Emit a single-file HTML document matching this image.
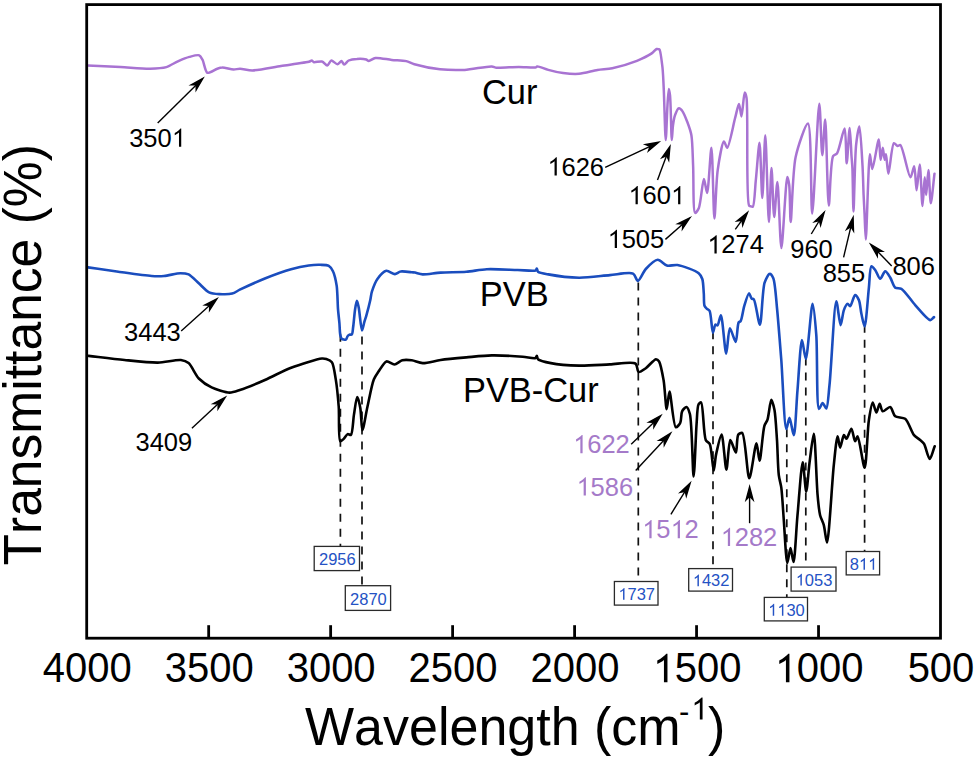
<!DOCTYPE html><html><head><meta charset="utf-8"><title>FTIR spectra</title><style>html,body{margin:0;padding:0;background:#fff;}svg{display:block;}text{font-family:"Liberation Sans",sans-serif;font-kerning:none;}</style></head><body>
<svg width="975" height="759" viewBox="0 0 975 759">
<rect x="0" y="0" width="975" height="759" fill="#fff"/>
<g stroke="#111" stroke-width="1.7" stroke-dasharray="8 7" fill="none">
<line x1="340.4" y1="333.8" x2="340.4" y2="546.4"/>
<line x1="362.0" y1="336.4" x2="362.0" y2="585.7"/>
<line x1="638.3" y1="282.5" x2="638.3" y2="581.5"/>
<line x1="713.0" y1="331.3" x2="713.0" y2="568.6"/>
<line x1="786.8" y1="429.2" x2="786.8" y2="597.4"/>
<line x1="805.8" y1="357.5" x2="805.8" y2="567.1"/>
<line x1="864.6" y1="324.8" x2="864.6" y2="551.5"/>
</g>
<g fill="none" stroke-linejoin="round" stroke-linecap="round">
<path d="M87.6 65.4 C98.6 66.0 112.0 66.6 120.5 67.1 C128.6 67.5 143.3 68.8 150.0 68.7 C155.0 68.6 162.5 68.2 166.4 67.1 C169.8 66.1 174.8 62.7 177.9 61.3 C180.9 60.0 186.4 57.7 189.4 56.9 C192.1 56.2 197.4 54.6 199.2 55.3 C200.5 55.8 201.6 58.1 202.5 59.7 C203.9 62.2 205.2 71.8 207.4 72.8 C209.3 73.6 215.1 69.4 217.3 68.7 C218.8 68.2 220.6 67.6 222.2 67.6 C224.6 67.5 231.1 69.5 233.7 69.5 C235.6 69.5 238.0 68.7 240.0 68.7 C242.7 68.7 248.3 70.4 252.3 70.4 C258.4 70.4 273.3 67.2 281.0 66.0 C288.7 64.8 306.5 62.5 309.7 61.5 C310.6 61.2 311.3 60.4 311.8 60.5 C312.4 60.6 313.0 61.9 313.8 62.2 C315.2 62.6 320.2 60.9 322.0 61.5 C323.7 62.0 326.0 65.7 327.2 65.6 C328.4 65.5 330.0 60.7 331.3 60.5 C332.7 60.3 336.0 64.3 337.4 64.2 C338.6 64.1 340.6 61.0 341.5 61.1 C342.4 61.2 343.3 64.5 344.2 64.6 C345.2 64.7 347.2 61.3 348.7 60.5 C350.5 59.6 354.6 59.0 356.9 58.9 C359.3 58.7 364.5 59.0 366.2 59.5 C367.1 59.8 367.9 60.9 368.8 60.9 C370.1 61.0 373.2 58.3 375.4 58.0 C378.7 57.5 387.6 59.5 391.8 59.9 C395.8 60.3 402.9 60.4 406.2 61.1 C408.7 61.7 411.6 63.4 414.4 64.2 C419.3 65.6 433.2 68.5 440.0 69.3 C446.6 70.0 457.9 70.2 464.6 69.9 C471.7 69.5 487.4 66.1 491.7 66.4 C493.6 66.5 494.8 67.5 496.6 67.7 C500.4 68.1 513.3 66.9 518.8 66.9 C523.7 66.9 534.1 68.0 536.0 67.4 C536.6 67.2 536.7 66.5 537.2 66.4 C538.6 66.1 545.1 69.1 548.3 69.9 C551.9 70.9 559.1 72.6 563.1 73.1 C567.3 73.6 574.7 74.2 579.1 73.8 C583.9 73.4 592.8 70.7 597.5 69.9 C601.6 69.2 607.9 69.1 612.3 68.2 C618.1 67.0 631.3 63.0 636.9 60.8 C641.4 59.0 648.9 55.3 651.7 53.4 C653.5 52.2 655.5 49.4 656.6 49.0 C657.2 48.8 658.2 49.1 658.6 49.2 C658.9 49.3 659.3 49.2 659.5 49.5 C660.5 50.7 661.9 62.5 662.5 67.6 C663.1 73.3 663.5 82.9 663.8 90.1 C664.3 100.8 665.2 140.0 665.7 140.0 C666.2 140.0 667.0 112.5 667.5 105.0 C667.8 99.9 668.4 88.9 668.8 88.9 C669.1 88.9 669.7 92.7 670.0 95.1 C670.8 101.6 671.3 140.0 671.8 140.0 C672.1 140.0 672.5 128.7 673.0 125.2 C673.4 122.3 674.1 117.6 675.0 115.2 C675.8 113.1 677.6 108.4 678.8 108.2 C679.7 108.0 681.7 110.1 682.6 111.4 C684.1 113.4 686.4 119.6 687.6 122.7 C688.8 125.9 690.7 131.1 691.4 135.2 C692.5 141.4 692.7 156.4 693.1 165.3 C693.7 176.5 692.9 212.2 695.1 212.9 C695.9 213.1 698.0 209.9 698.9 207.9 C700.8 203.5 702.6 179.1 703.9 179.1 C704.8 179.1 706.3 193.0 707.1 192.9 C708.5 192.8 710.5 147.8 711.4 147.8 C712.6 147.8 713.5 218.5 714.4 218.5 C715.2 218.5 716.1 181.5 717.7 170.3 C718.9 161.6 722.2 141.7 723.9 141.5 C724.8 141.4 726.3 147.9 727.2 147.8 C729.1 147.6 733.4 124.2 735.2 117.7 C736.4 113.3 738.1 103.9 739.0 103.9 C739.8 103.9 740.9 116.4 741.5 116.4 C742.4 116.4 743.7 92.7 744.7 92.6 C745.2 92.6 746.1 95.3 746.5 97.6 C748.4 107.7 745.8 200.2 749.0 205.4 C749.5 206.1 750.4 206.2 750.9 206.4 C751.4 206.6 752.4 207.0 752.8 206.7 C754.5 205.4 755.0 188.0 755.8 180.3 C756.8 171.2 758.7 142.8 759.5 142.8 C760.5 142.8 761.6 197.9 762.3 197.9 C763.1 197.9 764.5 135.2 765.3 135.2 C766.2 135.2 768.0 222.0 768.9 222.0 C769.6 222.0 770.8 168.1 771.5 168.1 C772.2 168.1 773.3 217.0 774.2 217.0 C774.9 217.0 776.6 181.9 777.4 181.9 C778.5 181.9 780.1 248.0 781.4 248.0 C782.7 248.0 785.8 177.1 787.3 177.0 C787.8 177.0 788.8 182.0 789.2 184.9 C790.1 191.1 790.0 222.0 790.7 222.0 C791.6 222.0 792.5 171.5 795.6 157.2 C797.9 146.6 805.7 123.2 808.0 123.6 C811.6 124.2 810.8 213.5 812.2 213.5 C813.7 213.5 817.8 103.8 819.3 103.8 C820.3 103.8 821.4 155.2 822.3 155.2 C823.0 155.2 824.5 119.6 825.2 119.6 C826.3 119.6 827.5 205.5 828.8 205.5 C829.8 205.5 830.3 161.3 833.1 156.2 C834.0 154.6 836.1 154.6 837.1 153.2 C839.4 149.9 843.3 128.3 844.6 128.5 C846.1 128.7 846.0 163.3 846.7 163.3 C847.4 163.3 849.0 128.0 849.7 128.0 C850.3 128.0 851.1 150.1 851.5 156.0 C851.8 159.9 852.2 163.8 852.4 168.0 C852.8 176.0 853.1 211.5 853.5 211.5 C854.0 211.5 854.8 157.2 856.1 145.0 C856.8 138.5 858.6 126.6 859.4 126.6 C860.5 126.7 861.9 155.7 862.5 165.4 C863.0 173.8 863.3 187.9 863.6 195.0 C863.9 200.9 864.3 209.4 864.6 215.0 C864.9 221.2 865.4 239.5 865.8 239.5 C866.6 239.5 868.5 154.4 869.9 154.3 C870.5 154.3 871.4 169.0 872.3 169.0 C873.6 169.0 877.7 139.4 878.8 139.5 C879.7 139.6 880.0 159.8 880.6 159.8 C881.1 159.8 882.3 147.8 882.8 147.8 C883.3 147.8 884.2 159.8 884.7 159.8 C885.0 159.8 885.7 154.3 886.0 154.3 C886.6 154.3 887.5 173.7 888.4 173.7 C889.5 173.7 891.7 144.1 893.9 143.2 C894.8 142.9 896.6 145.8 897.6 146.0 C898.4 146.1 899.6 144.7 900.4 145.1 C903.0 146.4 908.4 177.3 910.5 177.3 C911.7 177.3 913.4 166.2 914.2 166.3 C915.3 166.4 915.9 190.3 916.6 190.3 C917.3 190.3 919.0 164.4 919.7 164.4 C920.6 164.4 921.8 205.9 922.5 205.9 C923.1 205.9 924.2 177.3 924.7 177.3 C925.1 177.3 925.8 194.9 926.2 194.9 C926.7 194.9 927.8 170.0 928.4 170.0 C929.1 170.0 930.0 203.2 930.8 203.2 C931.6 203.2 933.3 183.5 934.5 173.7" stroke="#a873d2" stroke-width="2.5"/>
<path d="M88.0 267.4 C97.6 268.8 108.8 270.4 116.8 271.5 C125.6 272.7 144.7 275.6 151.6 276.0 C155.7 276.3 160.5 276.3 164.0 276.0 C168.1 275.7 176.8 273.2 180.4 273.2 C183.0 273.2 186.4 273.4 188.6 274.4 C191.4 275.7 196.1 280.9 198.8 283.3 C201.5 285.7 206.2 290.9 209.1 292.3 C211.7 293.5 216.4 293.9 219.3 294.1 C222.5 294.3 229.3 294.4 232.2 293.6 C234.6 293.0 237.2 291.0 239.8 289.7 C244.6 287.4 258.6 281.0 265.5 278.2 C272.3 275.5 284.9 270.9 291.1 269.2 C296.2 267.8 304.5 266.1 308.7 265.5 C312.1 265.0 317.4 264.7 320.2 264.8 C322.7 264.9 327.0 264.8 328.8 265.8 C330.4 266.7 332.2 269.5 333.1 271.5 C334.5 274.4 336.0 281.6 336.7 285.9 C337.5 291.3 337.6 303.8 338.0 309.2 C338.3 313.4 339.1 319.4 339.4 323.0 C339.7 326.3 339.8 332.7 340.3 335.0 C340.6 336.3 341.0 338.1 341.7 338.7 C342.4 339.3 345.0 340.1 345.8 339.7 C346.6 339.3 347.1 336.7 347.7 336.0 C348.1 335.5 349.0 334.8 349.5 334.6 C350.0 334.4 351.3 335.0 351.8 334.6 C352.7 333.9 352.8 329.3 353.2 326.8 C353.7 323.1 354.5 313.0 355.1 309.2 C355.5 306.6 356.4 300.9 356.9 300.9 C357.4 300.9 358.2 305.1 358.7 307.4 C359.6 311.6 361.0 330.3 362.0 330.4 C362.6 330.4 363.7 324.1 364.3 322.1 C364.8 320.4 365.6 318.1 366.2 316.1 C367.1 312.9 369.5 303.6 370.3 300.0 C370.9 297.4 371.1 294.0 371.9 291.6 C372.9 288.5 375.5 281.5 377.6 278.7 C379.5 276.1 383.8 271.3 386.3 270.8 C388.5 270.4 392.9 274.2 394.9 274.1 C396.6 274.0 398.8 271.8 400.6 271.5 C403.1 271.0 410.1 272.1 412.1 272.3 C413.1 272.4 414.0 272.4 415.0 272.6 C416.6 272.9 420.2 274.2 422.7 274.4 C426.5 274.6 435.4 272.9 440.6 272.6 C446.8 272.2 459.8 272.3 466.3 271.8 C472.1 271.3 480.8 269.5 486.8 269.2 C494.2 268.8 510.5 269.8 517.6 270.0 C523.0 270.1 533.5 271.5 535.5 270.5 C536.2 270.1 536.5 268.5 536.8 268.5 C537.2 268.5 537.2 271.1 538.0 271.8 C539.4 273.0 544.8 273.8 548.3 274.4 C554.3 275.5 570.9 277.6 579.1 277.7 C587.3 277.8 602.3 275.7 609.9 275.1 C616.5 274.6 629.3 271.8 633.0 273.6 C635.3 274.7 636.4 280.9 637.9 280.9 C639.8 280.9 643.2 271.8 645.8 269.0 C648.5 266.1 654.7 259.9 657.7 259.8 C660.3 259.7 664.2 264.9 666.9 265.6 C669.5 266.3 674.2 264.5 677.4 265.0 C682.2 265.7 695.6 270.6 698.7 273.2 C700.4 274.6 701.6 277.0 702.3 279.0 C703.3 281.9 703.5 289.8 703.8 293.5 C704.1 296.9 703.7 303.7 704.5 305.8 C704.9 306.9 706.0 308.0 706.7 308.7 C707.4 309.4 708.9 309.8 709.6 310.9 C711.2 313.6 711.9 332.5 712.9 332.6 C713.5 332.6 714.5 325.1 715.4 324.6 C715.9 324.4 717.0 325.6 717.5 325.4 C718.6 324.9 720.0 315.1 720.9 315.2 C722.5 315.3 724.9 353.6 726.2 353.6 C727.3 353.6 728.3 328.5 729.9 328.3 C731.1 328.1 734.6 342.1 735.7 342.0 C737.0 341.8 737.3 324.7 738.6 322.5 C739.1 321.7 740.2 321.8 740.7 321.0 C742.0 319.1 743.1 309.6 744.3 305.8 C745.4 302.2 748.0 293.2 749.1 293.2 C749.8 293.2 750.8 297.9 751.6 298.6 C752.1 299.1 753.2 298.7 753.8 299.3 C755.7 301.3 758.6 324.7 759.9 324.6 C761.6 324.5 762.3 289.5 764.6 282.6 C765.7 279.2 768.4 274.0 769.7 273.9 C770.7 273.8 772.5 276.4 773.3 278.3 C775.1 282.6 776.1 299.0 777.0 308.0 C778.2 319.9 780.1 345.2 781.3 360.0 C782.6 377.1 784.4 428.8 786.3 429.0 C787.1 429.1 788.6 417.8 789.5 417.8 C790.6 417.8 792.9 435.4 793.8 435.3 C795.3 435.2 796.4 402.5 797.5 390.2 C798.6 377.2 800.5 340.2 802.0 340.1 C802.9 340.0 804.8 358.9 805.8 358.9 C807.6 358.8 811.1 303.8 812.6 303.8 C813.7 303.8 815.5 325.0 816.3 335.1 C817.5 350.6 816.4 408.3 819.0 409.0 C819.8 409.2 821.6 403.0 822.6 403.0 C823.6 403.0 825.5 408.7 826.3 408.5 C827.8 408.1 828.6 393.2 829.5 385.0 C831.2 369.6 834.3 301.4 836.3 301.3 C837.4 301.2 839.5 325.1 840.6 325.1 C841.5 325.1 842.7 313.2 843.9 310.1 C844.7 308.0 846.6 303.9 847.6 303.8 C848.3 303.7 849.4 306.4 850.1 306.3 C851.4 306.1 853.7 295.3 855.1 295.1 C856.1 295.0 858.1 298.3 858.9 300.1 C860.1 302.8 860.6 310.2 861.4 313.8 C862.2 317.2 863.8 326.5 864.6 326.4 C866.0 326.3 867.9 296.4 868.9 287.6 C869.6 281.1 869.8 266.9 871.4 266.3 C872.2 266.0 874.2 268.7 875.2 270.0 C876.6 271.8 878.8 278.8 880.2 278.8 C881.5 278.8 883.8 271.4 885.2 271.3 C886.5 271.2 889.0 275.6 890.2 277.5 C891.7 279.8 893.4 286.2 895.2 287.6 C896.6 288.6 899.6 287.8 901.4 288.8 C904.7 290.7 911.4 300.9 915.2 305.1 C919.0 309.3 927.5 319.9 930.2 320.1 C931.5 320.2 932.7 318.1 934.0 317.1" stroke="#1a4dbe" stroke-width="2.6"/>
<path d="M88.6 355.9 C100.6 357.3 115.1 359.1 124.5 360.0 C133.5 360.9 149.7 362.7 157.8 362.6 C164.5 362.5 176.4 359.4 180.9 360.0 C183.6 360.4 186.6 361.5 188.6 363.1 C191.5 365.5 195.6 375.2 198.8 378.5 C201.8 381.5 207.7 385.6 211.6 387.4 C215.8 389.4 225.5 392.5 229.6 392.6 C232.7 392.6 236.5 391.1 239.8 390.0 C245.1 388.3 258.7 382.7 265.5 379.7 C272.4 376.7 283.8 370.5 291.1 367.7 C298.8 364.8 317.4 358.9 321.9 358.5 C323.6 358.4 325.1 358.6 326.3 359.0 C327.8 359.5 330.7 360.6 331.9 362.2 C333.8 364.8 334.9 374.4 335.8 379.6 C336.9 386.0 338.1 398.9 338.7 406.5 C339.4 415.2 338.2 440.3 340.3 441.3 C341.0 441.6 342.8 439.7 343.7 438.9 C344.8 437.9 346.6 434.5 347.7 434.1 C348.5 433.8 350.2 435.4 350.9 434.9 C352.7 433.7 353.1 419.6 354.0 414.4 C354.8 409.6 356.2 397.0 357.2 397.0 C358.0 397.0 359.7 404.5 360.3 408.0 C361.2 412.9 361.5 430.1 362.4 430.2 C363.4 430.3 366.0 413.0 367.5 406.5 C369.1 399.5 371.8 384.6 373.8 379.6 C375.0 376.7 377.0 373.8 378.5 371.6 C380.3 369.0 384.1 362.1 386.5 361.4 C388.4 360.9 392.3 364.6 394.4 364.5 C396.5 364.4 400.0 360.9 402.3 360.3 C404.6 359.7 409.2 360.0 411.8 360.3 C414.6 360.7 419.4 363.0 422.7 363.1 C426.9 363.3 435.4 360.7 440.6 360.0 C446.8 359.1 459.4 358.0 466.3 357.4 C473.1 356.8 484.8 355.5 491.9 355.4 C499.7 355.3 516.3 356.2 522.7 356.7 C526.9 357.0 533.9 358.8 535.5 358.0 C536.2 357.7 536.5 355.9 536.8 355.9 C537.2 355.9 537.2 358.4 538.0 359.2 C539.6 360.7 546.7 362.3 550.9 363.1 C556.9 364.3 571.4 365.4 579.1 365.6 C587.1 365.8 602.1 364.7 609.9 364.4 C617.0 364.1 632.1 361.3 635.5 363.6 C637.5 365.0 637.2 371.5 638.6 372.0 C640.0 372.5 643.8 369.6 645.8 368.2 C648.4 366.4 654.0 359.3 656.0 359.2 C657.0 359.2 658.4 360.4 659.1 361.5 C660.7 364.0 662.6 374.7 663.6 380.3 C664.8 387.1 665.8 409.1 666.7 409.1 C667.4 409.1 668.6 391.6 669.5 391.6 C670.8 391.6 673.3 426.5 675.8 427.3 C676.9 427.6 679.5 424.4 680.3 422.7 C681.4 420.5 681.0 413.5 682.1 411.3 C682.9 409.7 685.5 406.8 686.5 407.0 C687.6 407.2 689.1 411.1 689.9 414.0 C692.1 422.3 692.7 476.5 693.6 476.5 C694.5 476.5 695.8 434.2 696.6 423.6 C697.1 417.2 697.2 406.9 698.5 404.5 C699.1 403.5 700.5 402.2 701.1 402.5 C703.2 403.4 703.5 435.3 705.8 440.1 C706.7 441.9 708.9 442.3 709.8 444.1 C711.7 447.9 712.8 470.5 713.7 470.5 C714.4 470.5 715.1 458.9 716.1 454.4 C717.2 449.4 720.3 434.5 721.6 434.6 C723.2 434.7 725.2 469.6 726.4 469.6 C727.5 469.6 728.6 440.4 730.3 440.1 C731.5 439.9 734.8 452.7 735.9 452.5 C737.1 452.3 736.6 436.8 738.3 434.6 C739.1 433.6 741.3 432.5 742.2 433.0 C745.3 434.7 747.3 478.3 749.3 478.3 C751.1 478.3 755.0 443.3 756.5 443.3 C757.5 443.3 758.7 460.7 759.6 460.7 C760.8 460.7 762.7 431.4 764.4 425.9 C765.1 423.5 766.8 421.8 767.5 419.6 C768.8 415.9 770.2 399.9 771.3 399.8 C772.1 399.8 773.8 406.5 774.5 410.0 C775.6 415.9 776.4 431.8 777.0 440.1 C777.6 449.1 777.9 468.1 778.8 475.1 C779.3 479.3 780.7 483.5 781.3 487.6 C782.2 494.2 783.1 510.9 783.8 520.2 C784.6 530.8 786.1 562.9 787.3 563.0 C788.0 563.0 789.7 548.0 790.5 548.0 C791.3 548.0 792.8 562.0 793.5 562.0 C794.8 561.9 796.3 528.1 797.5 515.2 C798.8 501.5 801.4 462.3 802.7 462.3 C803.7 462.3 805.3 491.5 806.2 491.5 C807.1 491.5 808.5 470.6 809.5 463.0 C810.5 455.3 812.8 433.8 813.8 433.8 C815.2 433.9 816.5 483.3 817.6 495.2 C818.2 502.0 819.0 510.8 820.1 515.2 C820.9 518.4 823.0 522.1 823.8 525.2 C824.9 529.1 826.1 542.5 827.0 542.5 C828.8 542.4 832.1 480.7 833.8 465.1 C834.8 455.5 836.6 436.3 837.6 436.3 C838.3 436.3 839.3 447.6 840.1 447.6 C841.0 447.6 842.8 435.3 843.9 435.1 C844.5 435.0 845.7 438.8 846.4 438.8 C847.6 438.7 850.3 428.7 851.4 428.8 C852.6 428.9 854.1 441.2 855.1 441.3 C855.8 441.4 856.9 436.2 857.6 436.3 C859.3 436.5 863.2 467.7 864.6 467.6 C866.4 467.5 867.4 429.5 868.9 420.0 C869.8 414.2 871.5 402.6 872.7 402.5 C873.6 402.4 875.4 412.5 876.4 412.5 C877.3 412.5 878.8 403.8 879.7 403.8 C880.5 403.8 881.3 410.8 882.7 411.3 C884.1 411.8 888.6 406.5 890.2 407.0 C892.0 407.5 893.2 414.7 895.2 416.3 C897.2 417.9 902.9 417.0 905.2 418.8 C908.3 421.2 911.5 432.2 914.0 435.1 C915.6 437.0 918.8 438.8 920.2 440.1 C921.4 441.1 923.0 442.3 924.0 443.8 C925.7 446.4 928.2 458.9 929.7 458.9 C931.1 458.9 933.0 450.5 934.7 446.3" stroke="#000" stroke-width="2.6"/>
</g>
<rect x="86.70" y="4.60" width="853.80" height="633.60" fill="none" stroke="#000" stroke-width="2.8"/>
<g stroke="#000" stroke-width="2.8">
<line x1="208.67" y1="625.2" x2="208.67" y2="638.2"/>
<line x1="330.64" y1="625.2" x2="330.64" y2="638.2"/>
<line x1="452.61" y1="625.2" x2="452.61" y2="638.2"/>
<line x1="574.59" y1="625.2" x2="574.59" y2="638.2"/>
<line x1="696.56" y1="625.2" x2="696.56" y2="638.2"/>
<line x1="818.53" y1="625.2" x2="818.53" y2="638.2"/>
</g>
<g transform="translate(42.71 682.30) scale(1 1.040)"><text x="0" y="0" font-size="40" fill="#000">4000</text></g>
<g transform="translate(164.68 682.30) scale(1 1.040)"><text x="0" y="0" font-size="40" fill="#000">3500</text></g>
<g transform="translate(286.65 682.30) scale(1 1.040)"><text x="0" y="0" font-size="40" fill="#000">3000</text></g>
<g transform="translate(408.62 682.30) scale(1 1.040)"><text x="0" y="0" font-size="40" fill="#000">2500</text></g>
<g transform="translate(530.59 682.30) scale(1 1.040)"><text x="0" y="0" font-size="40" fill="#000">2000</text></g>
<g transform="translate(652.56 682.30) scale(1 1.040)"><text x="0" y="0" font-size="40" fill="#000"> 500</text><path transform="translate(0.00 0) scale(0.01953)" d="M763 0 L583 0 L583 -1102.4 Q518 -1042.8 412.5 -983.2 Q307 -923.6 242 -900.6 L242 -1067.8 Q390 -1135.1 519 -1244.6 Q648 -1354.2 702 -1409 L763 -1409 Z" fill="#000"/></g>
<g transform="translate(774.54 682.30) scale(1 1.040)"><text x="0" y="0" font-size="40" fill="#000"> 000</text><path transform="translate(0.00 0) scale(0.01953)" d="M763 0 L583 0 L583 -1102.4 Q518 -1042.8 412.5 -983.2 Q307 -923.6 242 -900.6 L242 -1067.8 Q390 -1135.1 519 -1244.6 Q648 -1354.2 702 -1409 L763 -1409 Z" fill="#000"/></g>
<g transform="translate(907.63 682.30) scale(1 1.040)"><text x="0" y="0" font-size="40" fill="#000">500</text></g>
<g stroke="#000" stroke-width="1.4" fill="#000">
<line x1="157.7" y1="123.1" x2="196.2" y2="84.9"/><path d="M202.9 78.3 L196.2 89.9 L196.2 84.9 L191.2 84.9 Z"/>
<line x1="605.2" y1="167.3" x2="650.1" y2="146.3"/><path d="M658.7 142.2 L648.5 150.9 L650.1 146.3 L645.5 144.6 Z"/>
<line x1="657.5" y1="180.1" x2="666.6" y2="155.5"/><path d="M669.9 146.6 L668.7 160.0 L666.6 155.5 L662.1 157.6 Z"/>
<line x1="665.4" y1="239.4" x2="682.9" y2="224.0"/><path d="M690.0 217.7 L682.5 228.9 L682.9 224.0 L677.9 223.7 Z"/>
<line x1="735.3" y1="229.4" x2="742.0" y2="220.2"/><path d="M747.5 212.5 L742.7 225.1 L742.0 220.2 L737.1 221.0 Z"/>
<line x1="811.3" y1="234.0" x2="819.4" y2="220.5"/><path d="M824.2 212.3 L820.6 225.2 L819.4 220.5 L814.6 221.7 Z"/>
<line x1="843.6" y1="257.3" x2="850.9" y2="226.6"/><path d="M853.1 217.4 L853.5 230.8 L850.9 226.6 L846.7 229.2 Z"/>
<line x1="891.7" y1="266.0" x2="877.4" y2="251.2"/><path d="M870.7 244.4 L882.3 251.3 L877.4 251.2 L877.3 256.1 Z"/>
<line x1="181.2" y1="331.0" x2="209.8" y2="305.2"/><path d="M216.9 298.8 L209.6 310.1 L209.8 305.2 L204.9 304.9 Z"/>
<line x1="191.9" y1="428.3" x2="218.2" y2="403.8"/><path d="M225.2 397.3 L218.1 408.7 L218.2 403.8 L213.3 403.6 Z"/>
<line x1="631.2" y1="444.2" x2="654.0" y2="422.2"/><path d="M660.8 415.6 L653.9 427.2 L654.0 422.2 L649.0 422.1 Z"/>
<line x1="635.7" y1="470.6" x2="664.1" y2="440.1"/><path d="M670.6 433.2 L664.3 445.1 L664.1 440.1 L659.2 440.3 Z"/>
<line x1="670.9" y1="514.3" x2="685.2" y2="491.2"/><path d="M690.2 483.1 L686.3 496.0 L685.2 491.2 L680.4 492.3 Z"/>
<line x1="749.6" y1="523.2" x2="749.6" y2="496.3"/><path d="M749.6 486.8 L753.1 499.8 L749.6 496.3 L746.1 499.8 Z"/>
</g>
<g transform="translate(129.18 146.80) scale(1 1.040)"><text x="0" y="0" font-size="25.5" fill="#000">350 </text><path transform="translate(42.55 0) scale(0.01245)" d="M763 0 L583 0 L583 -1102.4 Q518 -1042.8 412.5 -983.2 Q307 -923.6 242 -900.6 L242 -1067.8 Q390 -1135.1 519 -1244.6 Q648 -1354.2 702 -1409 L763 -1409 Z" fill="#000"/></g>
<g transform="translate(481.98 103.74) scale(1 1.040)"><text x="0" y="0" font-size="34.4" fill="#000">Cur</text></g>
<g transform="translate(547.29 175.55) scale(1 1.040)"><text x="0" y="0" font-size="25.5" fill="#000"> 626</text><path transform="translate(0.00 0) scale(0.01245)" d="M763 0 L583 0 L583 -1102.4 Q518 -1042.8 412.5 -983.2 Q307 -923.6 242 -900.6 L242 -1067.8 Q390 -1135.1 519 -1244.6 Q648 -1354.2 702 -1409 L763 -1409 Z" fill="#000"/></g>
<g transform="translate(628.29 204.25) scale(1 1.040)"><text x="0" y="0" font-size="25.5" fill="#000"> 60 </text><path transform="translate(0.00 0) scale(0.01245)" d="M763 0 L583 0 L583 -1102.4 Q518 -1042.8 412.5 -983.2 Q307 -923.6 242 -900.6 L242 -1067.8 Q390 -1135.1 519 -1244.6 Q648 -1354.2 702 -1409 L763 -1409 Z" fill="#000"/><path transform="translate(42.55 0) scale(0.01245)" d="M763 0 L583 0 L583 -1102.4 Q518 -1042.8 412.5 -983.2 Q307 -923.6 242 -900.6 L242 -1067.8 Q390 -1135.1 519 -1244.6 Q648 -1354.2 702 -1409 L763 -1409 Z" fill="#000"/></g>
<g transform="translate(607.49 248.05) scale(1 1.040)"><text x="0" y="0" font-size="25.5" fill="#000"> 505</text><path transform="translate(0.00 0) scale(0.01245)" d="M763 0 L583 0 L583 -1102.4 Q518 -1042.8 412.5 -983.2 Q307 -923.6 242 -900.6 L242 -1067.8 Q390 -1135.1 519 -1244.6 Q648 -1354.2 702 -1409 L763 -1409 Z" fill="#000"/></g>
<g transform="translate(707.19 253.43) scale(1 1.040)"><text x="0" y="0" font-size="25.5" fill="#000"> 274</text><path transform="translate(0.00 0) scale(0.01245)" d="M763 0 L583 0 L583 -1102.4 Q518 -1042.8 412.5 -983.2 Q307 -923.6 242 -900.6 L242 -1067.8 Q390 -1135.1 519 -1244.6 Q648 -1354.2 702 -1409 L763 -1409 Z" fill="#000"/></g>
<g transform="translate(790.23 257.80) scale(1 1.040)"><text x="0" y="0" font-size="25.5" fill="#000">960</text></g>
<g transform="translate(822.68 281.50) scale(1 1.040)"><text x="0" y="0" font-size="25.5" fill="#000">855</text></g>
<g transform="translate(892.38 275.00) scale(1 1.040)"><text x="0" y="0" font-size="25.5" fill="#000">806</text></g>
<g transform="translate(479.85 306.39) scale(1 1.040)"><text x="0" y="0" font-size="34.4" fill="#000">PVB</text></g>
<g transform="translate(124.08 340.75) scale(1 1.040)"><text x="0" y="0" font-size="25.5" fill="#000">3443</text></g>
<g transform="translate(462.95 402.14) scale(1 1.040)"><text x="0" y="0" font-size="34.4" fill="#000">PVB-Cur</text></g>
<g transform="translate(135.48 451.15) scale(1 1.040)"><text x="0" y="0" font-size="25.5" fill="#000">3409</text></g>
<g transform="translate(573.09 453.15) scale(1 1.040)"><text x="0" y="0" font-size="25.5" fill="#a57ac9"> 622</text><path transform="translate(0.00 0) scale(0.01245)" d="M763 0 L583 0 L583 -1102.4 Q518 -1042.8 412.5 -983.2 Q307 -923.6 242 -900.6 L242 -1067.8 Q390 -1135.1 519 -1244.6 Q648 -1354.2 702 -1409 L763 -1409 Z" fill="#a57ac9"/></g>
<g transform="translate(576.39 495.50) scale(1 1.040)"><text x="0" y="0" font-size="25.5" fill="#a57ac9"> 586</text><path transform="translate(0.00 0) scale(0.01245)" d="M763 0 L583 0 L583 -1102.4 Q518 -1042.8 412.5 -983.2 Q307 -923.6 242 -900.6 L242 -1067.8 Q390 -1135.1 519 -1244.6 Q648 -1354.2 702 -1409 L763 -1409 Z" fill="#a57ac9"/></g>
<g transform="translate(642.09 538.25) scale(1 1.040)"><text x="0" y="0" font-size="25.5" fill="#a57ac9"> 5 2</text><path transform="translate(0.00 0) scale(0.01245)" d="M763 0 L583 0 L583 -1102.4 Q518 -1042.8 412.5 -983.2 Q307 -923.6 242 -900.6 L242 -1067.8 Q390 -1135.1 519 -1244.6 Q648 -1354.2 702 -1409 L763 -1409 Z" fill="#a57ac9"/><path transform="translate(28.36 0) scale(0.01245)" d="M763 0 L583 0 L583 -1102.4 Q518 -1042.8 412.5 -983.2 Q307 -923.6 242 -900.6 L242 -1067.8 Q390 -1135.1 519 -1244.6 Q648 -1354.2 702 -1409 L763 -1409 Z" fill="#a57ac9"/></g>
<g transform="translate(720.59 546.10) scale(1 1.040)"><text x="0" y="0" font-size="25.5" fill="#a57ac9"> 282</text><path transform="translate(0.00 0) scale(0.01245)" d="M763 0 L583 0 L583 -1102.4 Q518 -1042.8 412.5 -983.2 Q307 -923.6 242 -900.6 L242 -1067.8 Q390 -1135.1 519 -1244.6 Q648 -1354.2 702 -1409 L763 -1409 Z" fill="#a57ac9"/></g>
<rect x="314.2" y="546.4" width="45.3" height="24.2" fill="#fff" stroke="#2a2a2a" stroke-width="1.3"/>
<g transform="translate(319.00 565.02) scale(1 1.040)"><text x="0" y="0" font-size="16.5" fill="#2452c4">2956</text></g>
<rect x="345.3" y="585.7" width="45.3" height="24.7" fill="#fff" stroke="#2a2a2a" stroke-width="1.3"/>
<g transform="translate(350.10 604.57) scale(1 1.040)"><text x="0" y="0" font-size="16.5" fill="#2452c4">2870</text></g>
<rect x="614.4" y="581.5" width="43.6" height="23.6" fill="#fff" stroke="#2a2a2a" stroke-width="1.3"/>
<g transform="translate(618.35 599.82) scale(1 1.040)"><text x="0" y="0" font-size="16.5" fill="#2452c4"> 737</text><path transform="translate(0.00 0) scale(0.00806)" d="M763 0 L583 0 L583 -1102.4 Q518 -1042.8 412.5 -983.2 Q307 -923.6 242 -900.6 L242 -1067.8 Q390 -1135.1 519 -1244.6 Q648 -1354.2 702 -1409 L763 -1409 Z" fill="#2452c4"/></g>
<rect x="688.7" y="568.6" width="43.8" height="22.5" fill="#fff" stroke="#2a2a2a" stroke-width="1.3"/>
<g transform="translate(692.75 586.37) scale(1 1.040)"><text x="0" y="0" font-size="16.5" fill="#2452c4"> 432</text><path transform="translate(0.00 0) scale(0.00806)" d="M763 0 L583 0 L583 -1102.4 Q518 -1042.8 412.5 -983.2 Q307 -923.6 242 -900.6 L242 -1067.8 Q390 -1135.1 519 -1244.6 Q648 -1354.2 702 -1409 L763 -1409 Z" fill="#2452c4"/></g>
<rect x="764.3" y="597.4" width="43.2" height="23.5" fill="#fff" stroke="#2a2a2a" stroke-width="1.3"/>
<g transform="translate(768.05 615.67) scale(1 1.040)"><text x="0" y="0" font-size="16.5" fill="#2452c4">  30</text><path transform="translate(0.00 0) scale(0.00806)" d="M763 0 L583 0 L583 -1102.4 Q518 -1042.8 412.5 -983.2 Q307 -923.6 242 -900.6 L242 -1067.8 Q390 -1135.1 519 -1244.6 Q648 -1354.2 702 -1409 L763 -1409 Z" fill="#2452c4"/><path transform="translate(9.18 0) scale(0.00806)" d="M763 0 L583 0 L583 -1102.4 Q518 -1042.8 412.5 -983.2 Q307 -923.6 242 -900.6 L242 -1067.8 Q390 -1135.1 519 -1244.6 Q648 -1354.2 702 -1409 L763 -1409 Z" fill="#2452c4"/></g>
<rect x="791.1" y="567.1" width="44.9" height="24.0" fill="#fff" stroke="#2a2a2a" stroke-width="1.3"/>
<g transform="translate(795.70 585.62) scale(1 1.040)"><text x="0" y="0" font-size="16.5" fill="#2452c4"> 053</text><path transform="translate(0.00 0) scale(0.00806)" d="M763 0 L583 0 L583 -1102.4 Q518 -1042.8 412.5 -983.2 Q307 -923.6 242 -900.6 L242 -1067.8 Q390 -1135.1 519 -1244.6 Q648 -1354.2 702 -1409 L763 -1409 Z" fill="#2452c4"/></g>
<rect x="846.2" y="551.5" width="33.4" height="23.4" fill="#fff" stroke="#2a2a2a" stroke-width="1.3"/>
<g transform="translate(849.64 569.72) scale(1 1.040)"><text x="0" y="0" font-size="16.5" fill="#2452c4">8  </text><path transform="translate(9.18 0) scale(0.00806)" d="M763 0 L583 0 L583 -1102.4 Q518 -1042.8 412.5 -983.2 Q307 -923.6 242 -900.6 L242 -1067.8 Q390 -1135.1 519 -1244.6 Q648 -1354.2 702 -1409 L763 -1409 Z" fill="#2452c4"/><path transform="translate(18.35 0) scale(0.00806)" d="M763 0 L583 0 L583 -1102.4 Q518 -1042.8 412.5 -983.2 Q307 -923.6 242 -900.6 L242 -1067.8 Q390 -1135.1 519 -1244.6 Q648 -1354.2 702 -1409 L763 -1409 Z" fill="#2452c4"/></g>
<g transform="translate(305.00 744.80) scale(1 1.040)"><text x="0" y="0" font-size="52" fill="#000">Wavelength (cm</text></g>
<g transform="translate(679.00 722.20) scale(1 1.040)"><text x="0" y="0" font-size="31" fill="#000">-</text></g>
<g transform="translate(691.00 719.60) scale(1 1.040)"><path transform="translate(0.00 0) scale(0.01514)" d="M763 0 L583 0 L583 -1102.4 Q518 -1042.8 412.5 -983.2 Q307 -923.6 242 -900.6 L242 -1067.8 Q390 -1135.1 519 -1244.6 Q648 -1354.2 702 -1409 L763 -1409 Z" fill="#000"/></g>
<g transform="translate(708.00 744.80) scale(1 1.040)"><text x="0" y="0" font-size="52" fill="#000">)</text></g>
<g transform="translate(41.1 565.5) rotate(-90)"><g transform="translate(0.00 0.00) scale(1 1.040)"><text x="0" y="0" font-size="51.6" fill="#000">Transmittance (%)</text></g></g>
</svg></body></html>
